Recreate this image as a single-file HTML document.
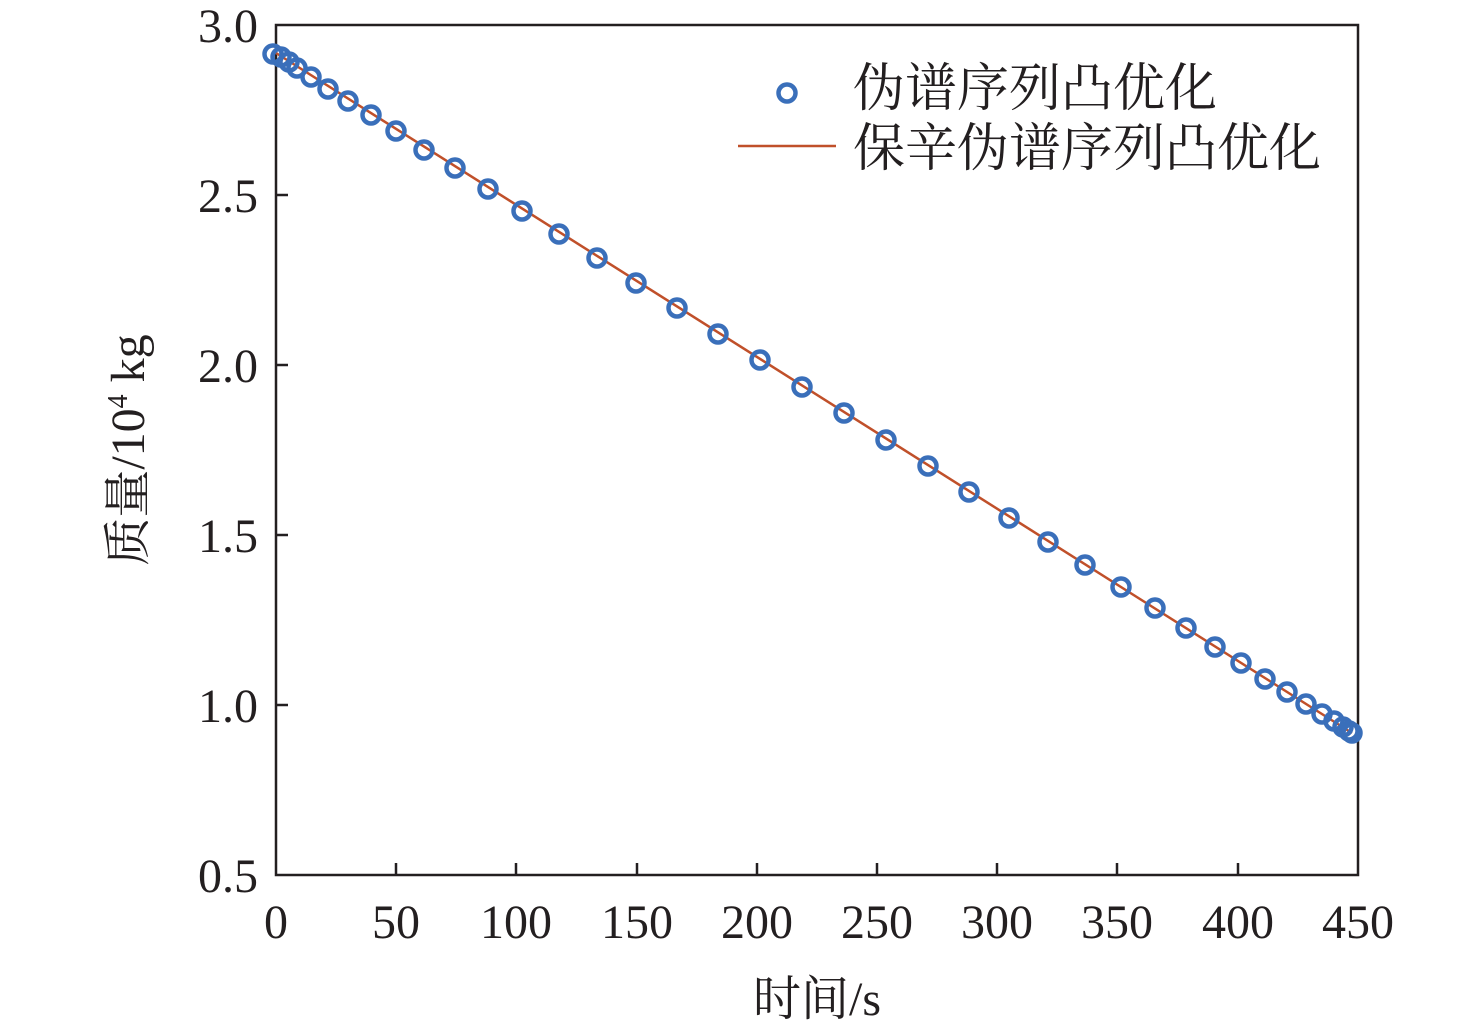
<!DOCTYPE html>
<html><head><meta charset="utf-8"><style>
html,body{margin:0;padding:0;background:#fff;}
svg{display:block;}
text{font-family:"Liberation Serif","Times New Roman","Noto Serif CJK SC",serif;fill:#231f20;}
</style></head><body>
<svg width="1476" height="1033" viewBox="0 0 1476 1033" xmlns="http://www.w3.org/2000/svg">
<rect x="276" y="25" width="1082" height="850" fill="none" stroke="#231f20" stroke-width="2.5"/>
<g stroke="#231f20" stroke-width="2.5">
<line x1="396" y1="875" x2="396" y2="863"/><line x1="516" y1="875" x2="516" y2="863"/>
<line x1="637" y1="875" x2="637" y2="863"/><line x1="757" y1="875" x2="757" y2="863"/>
<line x1="877" y1="875" x2="877" y2="863"/><line x1="997" y1="875" x2="997" y2="863"/>
<line x1="1117" y1="875" x2="1117" y2="863"/><line x1="1238" y1="875" x2="1238" y2="863"/>
<line x1="276" y1="195" x2="288" y2="195"/><line x1="276" y1="365" x2="288" y2="365"/>
<line x1="276" y1="535" x2="288" y2="535"/><line x1="276" y1="705" x2="288" y2="705"/>
</g>
<g font-size="48" text-anchor="end">
<text x="258" y="42">3.0</text><text x="258" y="212">2.5</text><text x="258" y="382">2.0</text>
<text x="258" y="552">1.5</text><text x="258" y="722">1.0</text><text x="258" y="892">0.5</text>
</g>
<g font-size="48" text-anchor="middle">
<text x="276" y="938">0</text><text x="396" y="938">50</text><text x="516" y="938">100</text>
<text x="637" y="938">150</text><text x="757" y="938">200</text><text x="877" y="938">250</text>
<text x="997" y="938">300</text><text x="1117" y="938">350</text><text x="1238" y="938">400</text>
<text x="1358" y="938">450</text>
</g>
<text x="817" y="1015" font-size="48" text-anchor="middle">时间/s</text>
<text transform="translate(144,450) rotate(-90)" font-size="48" text-anchor="middle">质量/10<tspan font-size="28" dy="-17">4</tspan><tspan dy="17"> kg</tspan></text>
<line x1="276" y1="53" x2="1352" y2="733" stroke="#c0502a" stroke-width="2.5"/>
<g fill="none" stroke="#3a6fba" stroke-width="4.5">
<circle cx="273" cy="54" r="8.5"/><circle cx="281" cy="57" r="8.5"/><circle cx="289" cy="62" r="8.5"/>
<circle cx="297" cy="68" r="8.5"/><circle cx="311" cy="77" r="8.5"/><circle cx="328" cy="89" r="8.5"/>
<circle cx="348" cy="101" r="8.5"/><circle cx="371" cy="115" r="8.5"/><circle cx="396" cy="131" r="8.5"/>
<circle cx="424" cy="150" r="8.5"/><circle cx="455" cy="168" r="8.5"/><circle cx="488" cy="189" r="8.5"/>
<circle cx="522" cy="211" r="8.5"/><circle cx="559" cy="234" r="8.5"/><circle cx="597" cy="258" r="8.5"/>
<circle cx="636" cy="283" r="8.5"/><circle cx="677" cy="308" r="8.5"/><circle cx="718" cy="334" r="8.5"/>
<circle cx="760" cy="360" r="8.5"/><circle cx="802" cy="387" r="8.5"/><circle cx="844" cy="413" r="8.5"/>
<circle cx="886" cy="440" r="8.5"/><circle cx="928" cy="466" r="8.5"/><circle cx="969" cy="492" r="8.5"/>
<circle cx="1009" cy="518" r="8.5"/><circle cx="1048" cy="542" r="8.5"/><circle cx="1085" cy="565" r="8.5"/>
<circle cx="1121" cy="587" r="8.5"/><circle cx="1155" cy="608" r="8.5"/><circle cx="1186" cy="628" r="8.5"/>
<circle cx="1215" cy="647" r="8.5"/><circle cx="1241" cy="663" r="8.5"/><circle cx="1265" cy="679" r="8.5"/>
<circle cx="1287" cy="692" r="8.5"/><circle cx="1306" cy="704" r="8.5"/><circle cx="1322" cy="714" r="8.5"/>
<circle cx="1334" cy="721" r="8.5"/><circle cx="1343" cy="727" r="8.5"/><circle cx="1349" cy="731" r="8.5"/>
<circle cx="1352" cy="733" r="8.5"/>
<circle cx="787" cy="93" r="8.5"/>
</g>
<line x1="738" y1="146" x2="836" y2="146" stroke="#c0502a" stroke-width="2.5"/>
<text x="853" y="106" font-size="52">伪谱序列凸优化</text>
<text x="853" y="166" font-size="52">保辛伪谱序列凸优化</text>
</svg>
</body></html>
